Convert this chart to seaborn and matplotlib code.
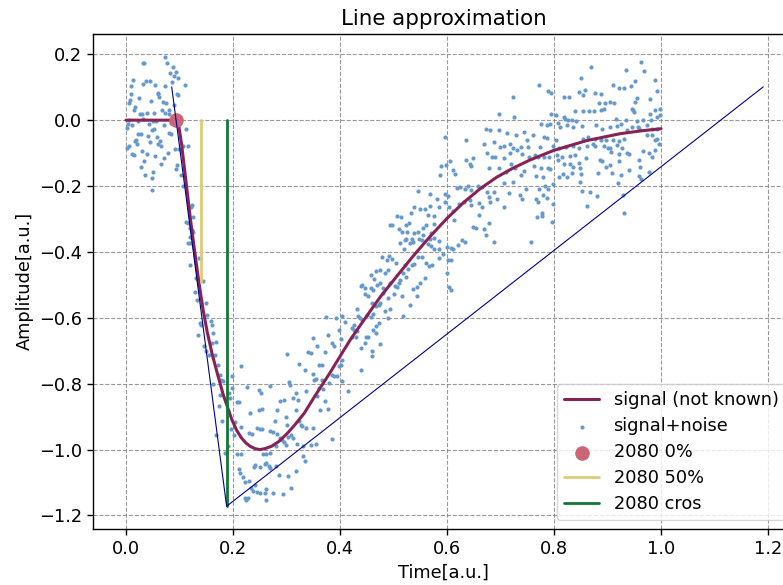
import matplotlib
matplotlib.use("Agg")
import matplotlib.pyplot as plt
import seaborn as sns
import pandas as pd

# ---------------- data ----------------
signal_x = [0.0, 0.097, 0.104, 0.112, 0.120, 0.128, 0.136, 0.144, 0.152, 0.161, 0.170,
            0.182, 0.198, 0.207, 0.216, 0.224, 0.232, 0.241, 0.250, 0.260, 0.272, 0.286,
            0.302, 0.317, 0.333, 0.352, 0.380, 0.419,
            0.445, 0.475, 0.507, 0.538, 0.569, 0.600, 0.631, 0.662, 0.693, 0.724, 0.755,
            0.799, 0.861, 0.924, 0.965, 1.000]
signal_y = [0.0, 0.0, -0.075, -0.185, -0.295, -0.395, -0.49, -0.575, -0.645, -0.71, -0.765,
            -0.835, -0.91, -0.942, -0.965, -0.98, -0.99, -0.997, -1.0, -0.997, -0.99, -0.975,
            -0.95, -0.922, -0.89, -0.84, -0.77, -0.667,
            -0.606, -0.537, -0.472, -0.41, -0.352, -0.298, -0.25, -0.208, -0.173, -0.145, -0.121,
            -0.092, -0.062, -0.041, -0.032, -0.026]

noise_points = [
    # early flat part
    (0.072, 0.192), (0.031, 0.174), (0.033, 0.174), (0.077, 0.172), (0.087, 0.162), (0.083, 0.143),
    (0.093, 0.146), (0.090, 0.133), (0.098, 0.127), (0.013, 0.123), (0.038, 0.119), (0.045, 0.118),
    (0.031, 0.111), (0.054, 0.106), (0.072, 0.104), (0.110, 0.108), (0.009, 0.104), (0.086, 0.115),
    (0.060, 0.083), (0.059, 0.079), (0.096, 0.079), (0.097, 0.075), (0.010, 0.078), (0.024, 0.066),
    (0.008, 0.061), (0.005, 0.053), (0.046, 0.058), (0.069, 0.054), (0.075, 0.051), (0.062, 0.069),
    (0.016, 0.040), (0.014, 0.030), (0.029, 0.020), (0.026, 0.018), (0.039, 0.023), (0.052, 0.021),
    (0.067, 0.030), (0.081, 0.032), (0.072, 0.022), (0.089, 0.045), (0.080, 0.020), (0.031, 0.004),
    (0.023, -0.004), (0.050, -0.003), (0.056, -0.002), (0.004, -0.013), (0.012, -0.015), (0.043, -0.012),
    (0.071, -0.016), (0.084, -0.010), (0.081, -0.038), (0.085, -0.042), (0.112, -0.028), (0.052, -0.026),
    (0.049, -0.030), (0.028, -0.041), (0.022, -0.042), (0.002, -0.025), (0.005, 0.0), (0.041, -0.049),
    (0.018, -0.059), (0.017, -0.063), (0.020, -0.073), (0.044, -0.065), (0.057, -0.051), (0.063, -0.063),
    (0.065, -0.077), (0.059, -0.071), (0.029, -0.093), (0.002, -0.086), (0.006, -0.079), (0.092, -0.089),
    (0.099, -0.088), (0.107, -0.079), (0.116, -0.079), (0.011, -0.103), (0.015, -0.105), (0.039, -0.103),
    (0.055, -0.109), (0.071, -0.116), (0.079, -0.099), (0.034, -0.125), (0.066, -0.133), (0.028, -0.142),
    (0.096, -0.137), (0.094, -0.147), (0.050, -0.156), (0.036, -0.165), (0.102, -0.167), (0.048, -0.176),
    (0.107, -0.199), (0.048, -0.213), (0.123, -0.257), (0.121, -0.265), (0.125, -0.295),
    # fall and valley
    (0.113, -0.308), (0.115, -0.311), (0.119, -0.328), (0.123, -0.333), (0.125, -0.338), (0.119, -0.354),
    (0.115, -0.374), (0.119, -0.374), (0.120, -0.439), (0.136, -0.419), (0.131, -0.480), (0.134, -0.485),
    (0.143, -0.487), (0.128, -0.523), (0.133, -0.545), (0.150, -0.556), (0.152, -0.591), (0.138, -0.616),
    (0.140, -0.622), (0.159, -0.611), (0.161, -0.621), (0.135, -0.652), (0.162, -0.646), (0.169, -0.672),
    (0.146, -0.685), (0.161, -0.677), (0.149, -0.702), (0.155, -0.712), (0.167, -0.714), (0.172, -0.744),
    (0.176, -0.773), (0.178, -0.788), (0.182, -0.793), (0.162, -0.800), (0.176, -0.833), (0.173, -0.869),
    (0.179, -0.914), (0.190, -0.884), (0.192, -0.828), (0.198, -0.813), (0.195, -0.843), (0.199, -0.778),
    (0.215, -0.745), (0.169, -0.955), (0.185, -1.010), (0.191, -0.990), (0.197, -0.939), (0.204, -0.917),
    (0.208, -0.856), (0.212, -0.856), (0.201, -0.955), (0.208, -1.012), (0.214, -1.012), (0.212, -1.059),
    (0.213, -1.071), (0.219, -1.083), (0.223, -1.099), (0.233, -1.116), (0.230, -1.094), (0.222, -1.146),
    (0.228, -1.146), (0.225, -1.152), (0.238, -1.126), (0.241, -1.106), (0.245, -1.129), (0.251, -1.131),
    (0.259, -1.133), (0.261, -1.121), (0.275, -1.131), (0.294, -1.136), (0.261, -1.152), (0.241, -1.048),
    (0.250, -1.053), (0.259, -1.044), (0.267, -1.051), (0.262, -1.040), (0.281, -1.051), (0.286, -1.076),
    (0.303, -1.079), (0.309, -1.116), (0.318, -1.066), (0.334, -1.035), (0.331, -1.018), (0.231, -0.889),
    (0.248, -0.881), (0.254, -0.877), (0.227, -0.811), (0.248, -0.820), (0.253, -0.828), (0.270, -0.806),
    (0.215, -0.931), (0.229, -0.949), (0.235, -0.953), (0.244, -0.934), (0.250, -0.939), (0.255, -0.937),
    (0.269, -0.944), (0.275, -0.947), (0.278, -0.914), (0.282, -0.879), (0.288, -0.854), (0.296, -0.848),
    (0.299, -0.902), (0.304, -0.796), (0.307, -0.803), (0.313, -0.843), (0.318, -0.828), (0.322, -0.848),
    (0.318, -0.879), (0.324, -0.914), (0.327, -0.924), (0.329, -0.929), (0.336, -0.934), (0.336, -0.823),
    (0.349, -0.934), (0.346, -0.985), (0.355, -0.982), (0.385, -0.968), (0.377, -0.877), (0.372, -0.854),
    (0.380, -0.798), (0.385, -0.773), (0.389, -0.778), (0.395, -0.776), (0.398, -0.747), (0.401, -0.742),
    (0.404, -0.727), (0.403, -0.793), (0.414, -0.821), (0.301, -0.709), (0.323, -0.739), (0.334, -0.758),
    (0.340, -0.703), (0.346, -0.707), (0.349, -0.662), (0.377, -0.653), (0.385, -0.677), (0.388, -0.687),
    (0.371, -0.704), (0.357, -0.687), (0.361, -0.742), (0.366, -0.742), (0.350, -0.771), (0.355, -0.786),
    (0.352, -0.790), (0.366, -0.788), (0.361, -0.813), (0.369, -0.816), (0.357, -0.838), (0.362, -0.879),
    (0.373, -0.598), (0.392, -0.601), (0.404, -0.596), (0.410, -0.614), (0.399, -0.638), (0.401, -0.663),
    (0.301, -0.924), (0.282, -0.952), (0.287, -0.965), (0.292, -0.970), (0.296, -0.978), (0.302, -0.962),
    (0.308, -0.955), (0.312, -0.965), (0.319, -0.982), (0.330, -0.990), (0.281, -0.990), (0.270, -1.010),
    (0.262, -1.012), (0.256, -1.013), (0.269, -1.056), (0.239, -1.053), (0.299, -0.987),
    # rise
    (0.724, 0.071), (0.698, 0.020), (0.725, 0.010), (0.596, -0.051), (0.636, -0.059), (0.672, -0.028),
    (0.681, -0.030), (0.697, -0.030), (0.713, -0.038), (0.728, -0.046), (0.743, -0.036), (0.749, -0.061),
    (0.670, -0.071), (0.675, -0.101), (0.687, -0.065), (0.699, -0.081), (0.706, -0.079), (0.718, -0.073),
    (0.723, -0.083), (0.730, -0.091), (0.738, -0.081), (0.751, -0.081), (0.684, -0.111), (0.690, -0.113),
    (0.706, -0.116), (0.718, -0.101), (0.741, -0.104), (0.753, -0.111), (0.589, -0.139), (0.598, -0.137),
    (0.606, -0.123), (0.587, -0.166), (0.611, -0.152), (0.615, -0.164), (0.636, -0.121), (0.643, -0.133),
    (0.645, -0.139), (0.648, -0.116), (0.678, -0.146), (0.697, -0.146), (0.711, -0.157), (0.719, -0.133),
    (0.727, -0.146), (0.738, -0.167), (0.744, -0.154), (0.545, -0.214), (0.568, -0.224), (0.597, -0.224),
    (0.601, -0.230), (0.619, -0.206), (0.625, -0.202), (0.633, -0.210), (0.639, -0.200), (0.644, -0.212),
    (0.657, -0.200), (0.666, -0.202), (0.675, -0.218), (0.687, -0.217), (0.706, -0.192), (0.715, -0.222),
    (0.723, -0.187), (0.736, -0.228), (0.740, -0.240), (0.748, -0.210), (0.706, -0.263), (0.693, -0.240),
    (0.678, -0.234), (0.681, -0.247), (0.666, -0.263), (0.660, -0.251), (0.645, -0.258), (0.643, -0.242),
    (0.632, -0.247), (0.623, -0.253), (0.612, -0.275), (0.613, -0.303), (0.603, -0.263), (0.596, -0.248),
    (0.585, -0.263), (0.581, -0.240), (0.568, -0.261), (0.559, -0.271), (0.550, -0.271), (0.539, -0.263),
    (0.533, -0.283), (0.528, -0.311), (0.524, -0.319), (0.564, -0.288), (0.575, -0.291), (0.576, -0.315),
    (0.561, -0.319), (0.555, -0.328), (0.545, -0.338), (0.538, -0.343), (0.523, -0.360), (0.521, -0.364),
    (0.497, -0.319), (0.494, -0.318), (0.507, -0.291), (0.514, -0.293), (0.510, -0.331), (0.516, -0.338),
    (0.513, -0.374), (0.519, -0.392), (0.526, -0.341), (0.531, -0.372), (0.537, -0.369), (0.534, -0.360),
    (0.547, -0.362), (0.554, -0.364), (0.556, -0.348), (0.570, -0.343), (0.569, -0.360), (0.576, -0.358),
    (0.585, -0.368), (0.564, -0.376), (0.570, -0.382), (0.576, -0.392), (0.585, -0.390), (0.592, -0.406),
    (0.600, -0.386), (0.607, -0.389), (0.612, -0.392), (0.621, -0.379), (0.628, -0.364), (0.634, -0.369),
    (0.649, -0.325), (0.654, -0.328), (0.660, -0.287), (0.678, -0.313), (0.670, -0.330), (0.672, -0.348),
    (0.688, -0.369), (0.607, -0.424), (0.601, -0.424), (0.585, -0.418), (0.571, -0.439), (0.566, -0.442),
    (0.561, -0.434), (0.553, -0.414), (0.545, -0.416), (0.539, -0.437), (0.534, -0.440), (0.527, -0.451),
    (0.521, -0.439), (0.523, -0.477), (0.518, -0.465), (0.505, -0.434), (0.491, -0.412), (0.488, -0.424),
    (0.479, -0.416), (0.467, -0.457), (0.458, -0.470), (0.464, -0.483), (0.475, -0.455), (0.489, -0.455),
    (0.497, -0.420), (0.485, -0.465), (0.474, -0.495), (0.469, -0.501), (0.481, -0.511), (0.494, -0.495),
    (0.502, -0.503), (0.507, -0.507), (0.511, -0.495), (0.513, -0.485), (0.500, -0.527), (0.490, -0.539),
    (0.481, -0.525), (0.475, -0.556), (0.473, -0.562), (0.467, -0.564), (0.459, -0.556), (0.453, -0.535),
    (0.447, -0.527), (0.439, -0.503), (0.442, -0.500), (0.446, -0.509), (0.457, -0.510), (0.462, -0.515),
    (0.518, -0.594), (0.493, -0.572), (0.484, -0.578), (0.490, -0.601), (0.473, -0.616), (0.467, -0.626),
    (0.458, -0.598), (0.462, -0.588), (0.450, -0.592), (0.442, -0.608), (0.437, -0.601), (0.431, -0.574),
    (0.434, -0.596), (0.426, -0.621), (0.422, -0.632), (0.430, -0.657), (0.427, -0.636), (0.432, -0.641),
    (0.423, -0.657), (0.448, -0.659), (0.452, -0.659), (0.446, -0.677), (0.439, -0.692), (0.475, -0.679),
    (0.467, -0.646), (0.462, -0.636), (0.460, -0.702), (0.459, -0.715), (0.439, -0.758), (0.600, -0.465),
    (0.604, -0.505), (0.607, -0.517), (0.544, -0.505), (0.536, -0.513), (0.550, -0.495), (0.558, -0.479),
    (0.543, -0.533), (0.531, -0.560), (0.516, -0.535),
    # tail
    (0.869, 0.162), (0.963, 0.177), (0.969, 0.149), (0.935, 0.152), (0.850, 0.129), (0.951, 0.119),
    (0.988, 0.123), (0.910, 0.108), (0.922, 0.099), (0.931, 0.099), (0.943, 0.103), (0.772, 0.106),
    (0.789, 0.089), (0.795, 0.081), (0.846, 0.086), (0.858, 0.093), (0.854, 0.076), (0.876, 0.081),
    (0.888, 0.079), (0.992, 0.089), (0.955, 0.066), (0.952, 0.056), (0.980, 0.063), (0.818, 0.071),
    (0.828, 0.071), (0.884, 0.051), (0.895, 0.051), (0.904, 0.055), (0.913, 0.053), (0.945, 0.035),
    (0.947, 0.030), (0.950, 0.025), (0.893, 0.035), (0.887, 0.032), (0.840, 0.028), (0.855, 0.027),
    (0.866, 0.027), (0.874, 0.028), (0.795, 0.020), (0.804, 0.015), (0.818, 0.010), (0.820, 0.005),
    (0.827, 0.0), (0.833, 0.002), (0.842, -0.002), (0.916, 0.005), (0.935, 0.0), (0.955, -0.002),
    (0.967, 0.0), (0.982, 0.002), (0.992, 0.010), (0.998, 0.015), (0.998, 0.035), (0.988, 0.030),
    (0.980, 0.018), (0.775, -0.012), (0.786, -0.015), (0.793, -0.012), (0.808, -0.010), (0.812, -0.022),
    (0.824, -0.015), (0.835, -0.022), (0.852, -0.018), (0.879, -0.015), (0.890, -0.028), (0.905, -0.020),
    (0.917, -0.018), (0.925, -0.012), (0.936, -0.030), (0.946, -0.022), (0.957, -0.020), (0.959, -0.025),
    (0.974, -0.015), (0.983, -0.028), (0.993, -0.028), (0.760, -0.045), (0.782, -0.051), (0.786, -0.053),
    (0.804, -0.061), (0.854, -0.056), (0.864, -0.051), (0.876, -0.056), (0.887, -0.061), (0.898, -0.059),
    (0.911, -0.059), (0.922, -0.064), (0.931, -0.057), (0.872, -0.071), (0.877, -0.079), (0.893, -0.079),
    (0.900, -0.086), (0.905, -0.086), (0.917, -0.076), (0.927, -0.083), (0.973, -0.045), (0.984, -0.046),
    (0.989, -0.061), (0.993, -0.056), (0.997, -0.071), (0.773, -0.081), (0.799, -0.079), (0.810, -0.086),
    (0.823, -0.081), (0.835, -0.079), (0.846, -0.083), (0.862, -0.079), (0.765, -0.106), (0.770, -0.111),
    (0.781, -0.113), (0.791, -0.111), (0.805, -0.106), (0.815, -0.111), (0.830, -0.108), (0.840, -0.107),
    (0.859, -0.116), (0.907, -0.096), (0.921, -0.103), (0.937, -0.101), (0.941, -0.103), (0.967, -0.094),
    (0.977, -0.101), (0.988, -0.091), (0.763, -0.139), (0.776, -0.146), (0.788, -0.146), (0.807, -0.121),
    (0.818, -0.134), (0.829, -0.133), (0.836, -0.141), (0.846, -0.131), (0.885, -0.121), (0.890, -0.123),
    (0.898, -0.141), (0.905, -0.136), (0.921, -0.124), (0.958, -0.121), (0.961, -0.143), (0.984, -0.111),
    (0.766, -0.170), (0.779, -0.172), (0.793, -0.149), (0.816, -0.162), (0.833, -0.160), (0.849, -0.146),
    (0.850, -0.162), (0.883, -0.160), (0.909, -0.160), (0.925, -0.165), (0.940, -0.152), (0.958, -0.170),
    (0.962, -0.180), (0.978, -0.157), (0.772, -0.210), (0.784, -0.200), (0.789, -0.210), (0.799, -0.194),
    (0.810, -0.172), (0.824, -0.174), (0.849, -0.187), (0.920, -0.192), (0.766, -0.240), (0.770, -0.249),
    (0.779, -0.227), (0.786, -0.237), (0.798, -0.253), (0.852, -0.214), (0.868, -0.217), (0.880, -0.230),
    (0.928, -0.227), (0.862, -0.260), (0.768, -0.293), (0.777, -0.291), (0.778, -0.283), (0.797, -0.310),
    (0.757, -0.371), (0.931, -0.283),
]

point_0_x = [0.093]
point_0_y = [0.0]
line_50_x = [0.1396, 0.1396]
line_50_y = [0.0, -0.49]
line_cross_x = [0.188, 0.188]
line_cross_y = [0.0, -1.172]
approx_x = [0.0854, 0.188, 1.191]
approx_y = [0.101, -1.172, 0.101]

labels = ["signal (not known)", "signal+noise", "2080 0%", "2080 50%", "2080 cros"]

# ---------------- style ----------------
sns.set_theme(style="ticks")
plt.rcParams.update({
    "font.family": ["DejaVu Sans"],
    "font.size": 12.8,
    "axes.edgecolor": "black",
    "axes.linewidth": 1.0,
    "xtick.color": "black",
    "ytick.color": "black",
    "xtick.labelsize": 12.8,
    "ytick.labelsize": 12.8,
    "axes.labelsize": 12.8,
    "axes.titlesize": 15.4,
    "legend.fontsize": 12.8,
    "xtick.major.size": 4.5,
    "ytick.major.size": 4.5,
    "xtick.major.width": 1.0,
    "ytick.major.width": 1.0,
    "text.color": "black",
    "axes.labelcolor": "black",
})

fig = plt.figure(figsize=(7.83, 5.85), dpi=100)
ax = fig.add_axes([0.1192, 0.0952, 0.8955, 0.8475])

sig_df = pd.DataFrame({"t": signal_x, "a": signal_y})
noise_df = pd.DataFrame(noise_points, columns=["t", "a"])

sns.lineplot(data=sig_df, x="t", y="a", ax=ax, color="#882255", linewidth=2.2,
             sort=False, estimator=None, label=labels[0], zorder=2)
sns.scatterplot(data=noise_df, x="t", y="a", ax=ax, color="#6699CC", s=9,
                linewidth=0, label=labels[1], zorder=1)
sns.scatterplot(x=point_0_x, y=point_0_y, ax=ax, color="#CC6677", s=110,
                linewidth=0, label=labels[2], zorder=3)
ax.plot(line_50_x, line_50_y, color="#DDCC77", linewidth=2.0, label=labels[3], zorder=3)
ax.plot(line_cross_x, line_cross_y, color="#117733", linewidth=2.0, label=labels[4], zorder=3)
ax.plot(approx_x, approx_y, color="#00008B", linewidth=0.8, zorder=4)

ax.set_xlim(-0.0611, 1.2495)
ax.set_ylim(-1.242, 0.263)
ax.set_xticks([0.0, 0.2, 0.4, 0.6, 0.8, 1.0, 1.2])
ax.set_yticks([-1.2, -1.0, -0.8, -0.6, -0.4, -0.2, 0.0, 0.2])
ax.grid(True, linestyle="--", color="gray", linewidth=0.8, alpha=0.8)
ax.set_axisbelow(True)
for s in ax.spines.values():
    s.set_visible(True)
    s.set_color("black")

ax.set_title("Line approximation")
ax.set_xlabel("Time[a.u.]")
ax.set_ylabel("Amplitude[a.u.]")

handles, labs = ax.get_legend_handles_labels()
order = [labs.index(l) for l in labels]
ax.legend([handles[i] for i in order], [labs[i] for i in order], loc="lower right",
          labelspacing=0.45)

fig.savefig("out.png", dpi=100)
